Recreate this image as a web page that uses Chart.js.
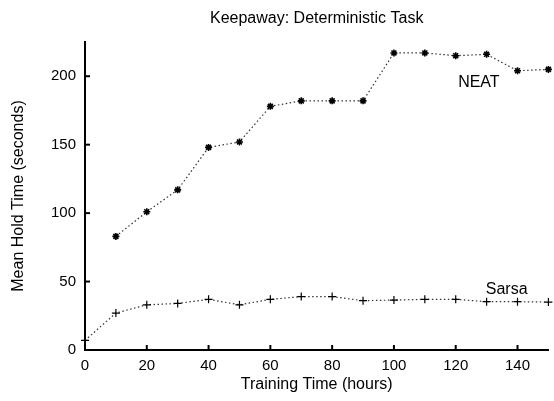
<!DOCTYPE html>
<html>
<head>
<meta charset="utf-8">
<script src="https://cdn.jsdelivr.net/npm/chart.js@4.4.1/dist/chart.umd.min.js"></script>
<style>
  html, body { margin: 0; padding: 0; background: #fff; }
  #wrap { width: 554px; height: 401px; position: relative; }
</style>
</head>
<body>
<div id="wrap"><canvas id="chart"></canvas></div>
<script>
// data
const hours = [0, 10, 20, 30, 40, 50, 60, 70, 80, 90, 100, 110, 120, 130, 140, 150];
const neatValues = [null, 83, 101, 117, 148, 152, 178, 182, 182, 182, 217, 217, 215, 216, 204, 205];
const sarsaValues = [7, 27, 33, 34, 37, 33, 37, 39, 39, 36, 36.5, 37, 37, 35.3, 35.3, 35];
const yTicks = [0, 50, 100, 150, 200];
const xTicks = [0, 20, 40, 60, 80, 100, 120, 140];

const font = '"Liberation Sans", Arial, Helvetica, sans-serif';

// title, axis titles, series labels and inward tick marks
const extras = {
    id: 'extras',
    afterDraw(chart) {
        const ctx = chart.ctx;
        const xs = chart.scales.x;
        const ys = chart.scales.y;
        const area = chart.chartArea;
        const midX = (area.left + area.right) / 2;
        ctx.save();
        ctx.strokeStyle = '#000';
        ctx.lineWidth = 2;
        yTicks.forEach(v => {
            const py = ys.getPixelForValue(v);
            ctx.beginPath();
            ctx.moveTo(area.left, py);
            ctx.lineTo(area.left + 5, py);
            ctx.stroke();
        });
        xTicks.forEach(v => {
            const px = xs.getPixelForValue(v);
            ctx.beginPath();
            ctx.moveTo(px, area.bottom);
            ctx.lineTo(px, area.bottom - 5);
            ctx.stroke();
        });

        ctx.fillStyle = '#000';
        ctx.textAlign = 'center';
        ctx.textBaseline = 'middle';
        ctx.font = '16px ' + font;
        ctx.fillText('Keepaway: Deterministic Task', midX, 19);

        ctx.font = '16px ' + font;
        ctx.fillText('Training Time (hours)', midX, 385);
        ctx.save();
        ctx.translate(19, (area.top + area.bottom) / 2);
        ctx.rotate(-Math.PI / 2);
        ctx.fillText('Mean Hold Time (seconds)', 0, 0);
        ctx.restore();

        ctx.font = '16px ' + font;
        ctx.fillText('NEAT', xs.getPixelForValue(127.5), ys.getPixelForValue(195));
        ctx.fillText('Sarsa', xs.getPixelForValue(136.5), ys.getPixelForValue(44));
        ctx.restore();
    }
};

const ctx = document.getElementById('chart').getContext('2d');
new Chart(ctx, {
    type: 'line',
    data: {
        labels: hours,
        datasets: [
            {
                label: 'NEAT',
                data: neatValues,
                borderColor: '#333',
                borderWidth: 1.2,
                borderDash: [1.5, 2.5],
                pointStyle: 'star',
                pointRadius: 3.5,
                pointBorderColor: '#000',
                pointBorderWidth: 1.6,
                pointBackgroundColor: '#000',
                spanGaps: true,
                clip: false,
                tension: 0
            },
            {
                label: 'Sarsa',
                data: sarsaValues,
                borderColor: '#333',
                borderWidth: 1.2,
                borderDash: [1.5, 2.5],
                pointStyle: 'cross',
                pointRadius: 4,
                pointBorderColor: '#000',
                pointBorderWidth: 1.2,
                clip: false,
                tension: 0
            }
        ]
    },
    options: {
        responsive: true,
        maintainAspectRatio: false,
        animation: false,
        layout: { padding: { top: 42, right: 2, left: 0, bottom: 0 } },
        plugins: {
            legend: { display: false },
            title: { display: false },
            tooltip: { enabled: false }
        },
        scales: {
            x: {
                type: 'linear',
                min: 0,
                max: 150,
                afterFit(s) { s.height = 51; },
                afterBuildTicks(s) { s.ticks = xTicks.map(v => ({ value: v })); },
                grid: { display: false, drawTicks: false },
                border: { display: true, color: '#000', width: 2 },
                ticks: { color: '#000', padding: 7, font: { family: font, size: 15 } }
            },
            y: {
                type: 'linear',
                min: 0,
                max: 225,
                afterFit(s) { s.width = 85; },
                afterBuildTicks(s) { s.ticks = yTicks.map(v => ({ value: v })); },
                grid: { display: false, drawTicks: false },
                border: { display: true, color: '#000', width: 2 },
                ticks: { color: '#000', padding: 9, font: { family: font, size: 15 } }
            }
        }
    },
    plugins: [extras]
});
</script>
</body>
</html>
